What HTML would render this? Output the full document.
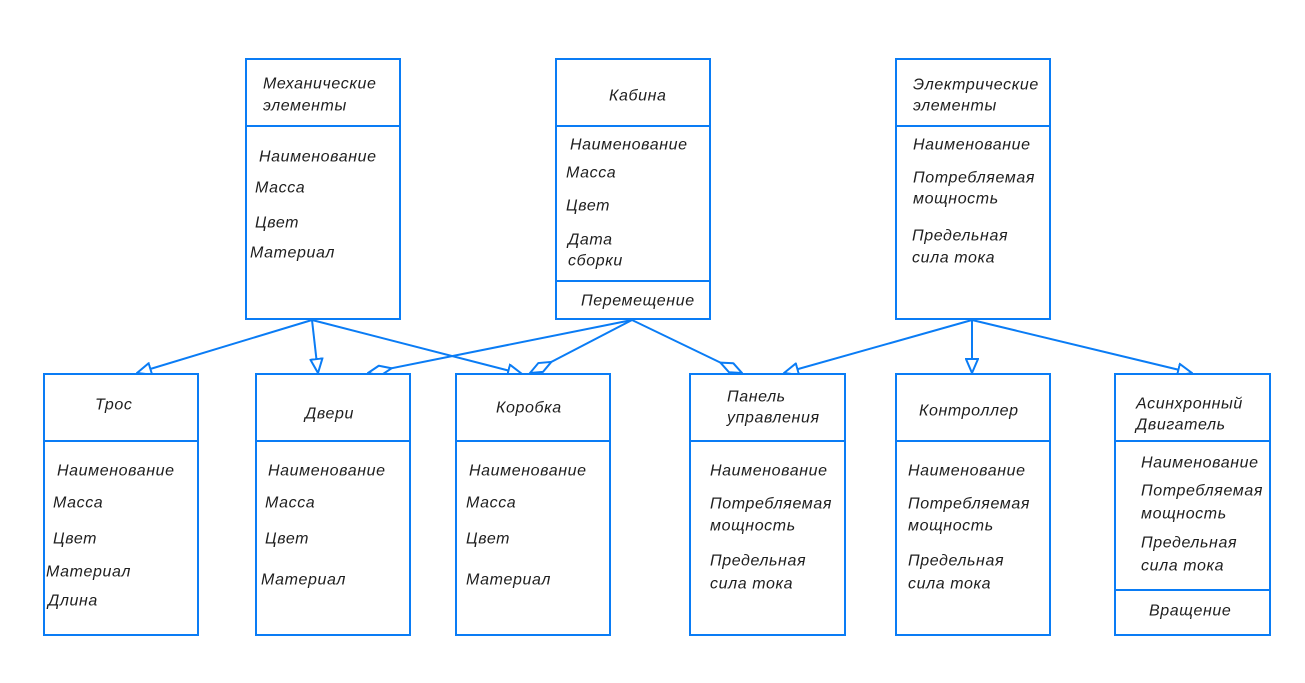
<!DOCTYPE html>
<html><head><meta charset="utf-8">
<style>
html,body{margin:0;padding:0;background:#fff;}
svg{display:block;}
text{font-family:"Liberation Sans",sans-serif;font-style:italic;font-size:16px;fill:#1e1e1e;letter-spacing:0.6px;dominant-baseline:central;}
.b{fill:#fff;stroke:#0a7cf5;stroke-width:2;}
.l{stroke:#0a7cf5;stroke-width:2;fill:none;}
</style></head><body>
<svg width="1305" height="683" viewBox="0 0 1305 683" xmlns="http://www.w3.org/2000/svg">
<defs>
<marker id="tri" markerWidth="16" markerHeight="14" refX="15" refY="7" orient="auto" markerUnits="userSpaceOnUse">
<path d="M1,1 L15,7 L1,13 Z" fill="#fff" stroke="#0a7cf5" stroke-width="2"/>
</marker>
<marker id="dia" markerWidth="26" markerHeight="12" refX="25" refY="6" orient="auto" markerUnits="userSpaceOnUse">
<path d="M1,6 L13,1 L25,6 L13,11 Z" fill="#fff" stroke="#0a7cf5" stroke-width="2"/>
</marker>
</defs>
<!-- connectors -->
<line class="l" x1="312" y1="320" x2="137" y2="373" marker-end="url(#tri)"/>
<line class="l" x1="312" y1="320" x2="318" y2="373" marker-end="url(#tri)"/>
<line class="l" x1="312" y1="320" x2="522" y2="374" marker-end="url(#tri)"/>
<line class="l" x1="632" y1="320" x2="368" y2="373" marker-end="url(#dia)"/>
<line class="l" x1="632" y1="320" x2="530" y2="373" marker-end="url(#dia)"/>
<line class="l" x1="632" y1="320" x2="742" y2="373" marker-end="url(#dia)"/>
<line class="l" x1="972" y1="320" x2="784" y2="373" marker-end="url(#tri)"/>
<line class="l" x1="972" y1="320" x2="972" y2="373" marker-end="url(#tri)"/>
<line class="l" x1="972" y1="320" x2="1192" y2="373" marker-end="url(#tri)"/>
<!-- boxes -->
<rect class="b" x="246" y="59" width="154" height="260"/><line class="l" x1="246" y1="126" x2="400" y2="126"/>
<rect class="b" x="556" y="59" width="154" height="260"/><line class="l" x1="556" y1="126" x2="710" y2="126"/><line class="l" x1="556" y1="281" x2="710" y2="281"/>
<rect class="b" x="896" y="59" width="154" height="260"/><line class="l" x1="896" y1="126" x2="1050" y2="126"/>
<rect class="b" x="44" y="374" width="154" height="261"/><line class="l" x1="44" y1="441" x2="198" y2="441"/>
<rect class="b" x="256" y="374" width="154" height="261"/><line class="l" x1="256" y1="441" x2="410" y2="441"/>
<rect class="b" x="456" y="374" width="154" height="261"/><line class="l" x1="456" y1="441" x2="610" y2="441"/>
<rect class="b" x="690" y="374" width="155" height="261"/><line class="l" x1="690" y1="441" x2="845" y2="441"/>
<rect class="b" x="896" y="374" width="154" height="261"/><line class="l" x1="896" y1="441" x2="1050" y2="441"/>
<rect class="b" x="1115" y="374" width="155" height="261"/><line class="l" x1="1115" y1="441" x2="1270" y2="441"/><line class="l" x1="1115" y1="590" x2="1270" y2="590"/>
<!-- text -->
<text x="263" y="84">Механические</text><text x="263" y="106">элементы</text>
<text x="259" y="157">Наименование</text><text x="255" y="188">Масса</text><text x="255" y="223">Цвет</text><text x="250" y="253">Материал</text>

<text x="609" y="96">Кабина</text>
<text x="570" y="145">Наименование</text><text x="566" y="173">Масса</text><text x="566" y="206">Цвет</text><text x="568" y="240">Дата</text><text x="568" y="261">сборки</text><text x="581" y="301">Перемещение</text>

<text x="913" y="85">Электрические</text><text x="913" y="106">элементы</text>
<text x="913" y="145">Наименование</text><text x="913" y="178">Потребляемая</text><text x="913" y="199">мощность</text><text x="912" y="236">Предельная</text><text x="912" y="258">сила тока</text>

<text x="95" y="405">Трос</text>
<text x="57" y="471">Наименование</text><text x="53" y="503">Масса</text><text x="53" y="539">Цвет</text><text x="46" y="572">Материал</text><text x="48" y="601">Длина</text>

<text x="305" y="414">Двери</text>
<text x="268" y="471">Наименование</text><text x="265" y="503">Масса</text><text x="265" y="539">Цвет</text><text x="261" y="580">Материал</text>

<text x="496" y="408">Коробка</text>
<text x="469" y="471">Наименование</text><text x="466" y="503">Масса</text><text x="466" y="539">Цвет</text><text x="466" y="580">Материал</text>

<text x="727" y="397">Панель</text><text x="727" y="418">управления</text>
<text x="710" y="471">Наименование</text><text x="710" y="504">Потребляемая</text><text x="710" y="526">мощность</text><text x="710" y="561">Предельная</text><text x="710" y="584">сила тока</text>

<text x="919" y="411">Контроллер</text>
<text x="908" y="471">Наименование</text><text x="908" y="504">Потребляемая</text><text x="908" y="526">мощность</text><text x="908" y="561">Предельная</text><text x="908" y="584">сила тока</text>

<text x="1136" y="404">Асинхронный</text><text x="1136" y="425">Двигатель</text>
<text x="1141" y="463">Наименование</text><text x="1141" y="491">Потребляемая</text><text x="1141" y="514">мощность</text><text x="1141" y="543">Предельная</text><text x="1141" y="566">сила тока</text><text x="1149" y="611">Вращение</text>
</svg>
</body></html>
